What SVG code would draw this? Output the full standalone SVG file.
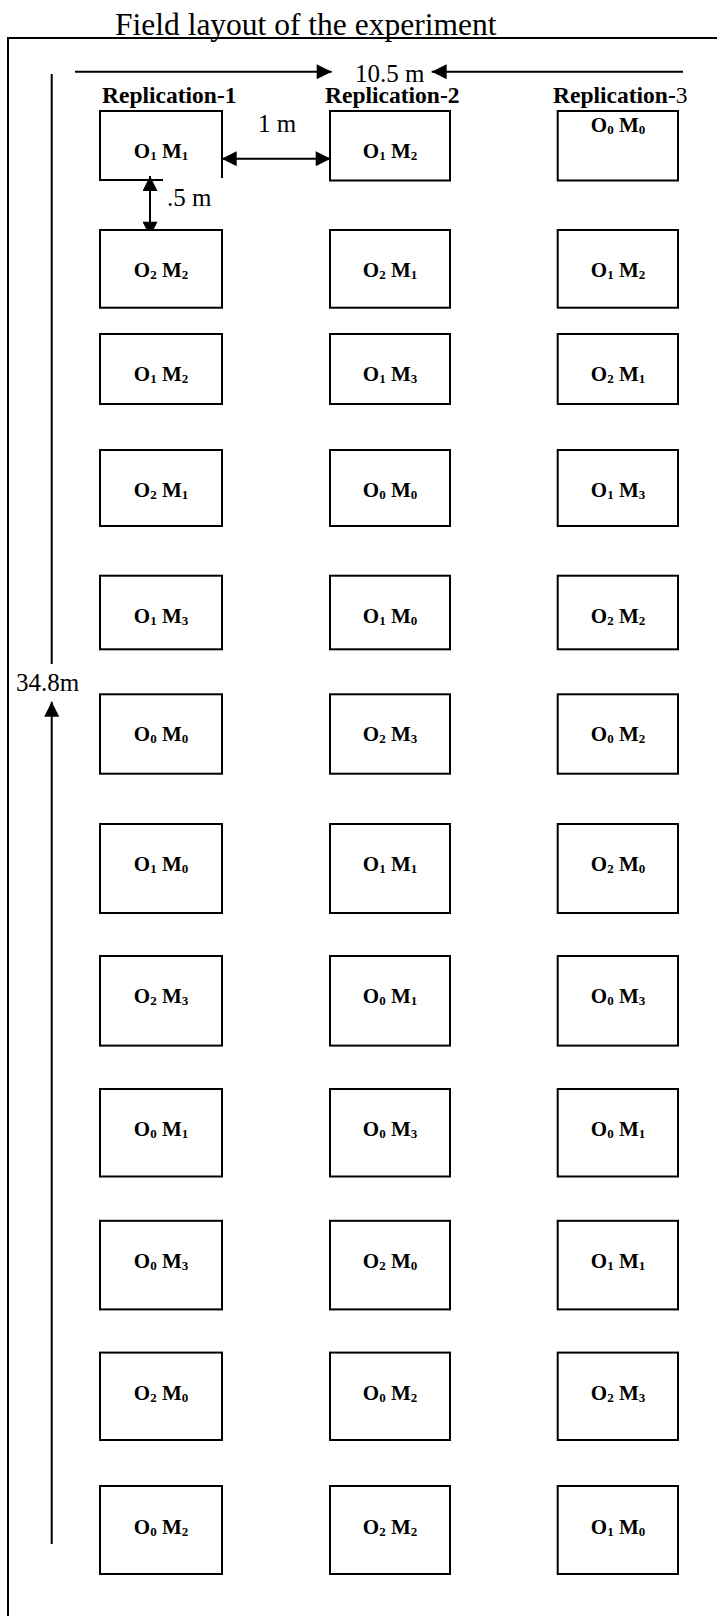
<svg xmlns="http://www.w3.org/2000/svg" width="717" height="1616" viewBox="0 0 717 1616">
<defs>
<style>
.plot{fill:#fff;stroke:#000;stroke-width:2}
.lbl{font-family:"Liberation Serif","Times New Roman",serif;font-weight:bold;font-size:21px;fill:#000;text-anchor:middle}
.sub{font-size:13px}
.dim{font-family:"Liberation Serif","Times New Roman",serif;font-size:25px;fill:#000}
.rep{font-family:"Liberation Serif","Times New Roman",serif;font-weight:bold;font-size:23.5px;fill:#000}
.ln{stroke:#000;stroke-width:2;fill:none}
</style>
<marker id="ah" viewBox="0 0 16 16" refX="16" refY="8" markerWidth="16" markerHeight="15" markerUnits="userSpaceOnUse" orient="auto-start-reverse">
<path d="M0,0 L16,8 L0,16 Z" fill="#000"/>
</marker>
</defs>
<rect width="717" height="1616" fill="#fff"/>
<g id="frame">
<text x="115" y="34.5" font-family="Liberation Serif, Times New Roman, serif" font-size="31.5" fill="#000">Field layout of the experiment</text>
<path class="ln" d="M717,38 H8 V1616"/>
</g>
<g id="headers">
<text class="rep" x="102" y="103">Replication-1</text>
<text class="rep" x="325" y="103">Replication-2</text>
<text class="rep" x="553" y="103">Replication-<tspan font-weight="normal">3</tspan></text>
</g>
<g id="connectors">
<line class="ln" x1="75" y1="71.7" x2="331.7" y2="71.7" marker-end="url(#ah)"/>
<line class="ln" x1="683" y1="71.7" x2="431.7" y2="71.7" marker-end="url(#ah)"/>
<line class="ln" x1="221.7" y1="158.7" x2="330.7" y2="158.7" marker-start="url(#ah)" marker-end="url(#ah)"/>
<line class="ln" x1="150" y1="176" x2="150" y2="236.7" marker-start="url(#ah)" marker-end="url(#ah)"/>
<line class="ln" x1="51.7" y1="74" x2="51.7" y2="664"/>
<line class="ln" x1="51.7" y1="1544" x2="51.7" y2="701.7" marker-end="url(#ah)"/>
<text class="dim" x="355" y="81.7">10.5 m</text>
<text class="dim" x="258" y="131.7">1 m</text>
<text class="dim" x="167" y="206">.5 m</text>
<text class="dim" x="16" y="691" font-size="26">34.8m</text>
</g>
<g id="r1c1"><path class="ln" d="M163,180 H100 V111 H222 V178"/><text class="lbl" x="161" y="158">O<tspan class="sub" dy="2">1</tspan><tspan dy="-2"> M</tspan><tspan class="sub" dy="2">1</tspan></text></g>
<g id="r1c2"><rect class="plot" x="330" y="111" width="120" height="69.5"/><text class="lbl" x="390" y="158">O<tspan class="sub" dy="2">1</tspan><tspan dy="-2"> M</tspan><tspan class="sub" dy="2">2</tspan></text></g>
<g id="r1c3"><rect class="plot" x="557.7" y="111" width="120.3" height="69.5"/><text class="lbl" x="618" y="131.7">O<tspan class="sub" dy="2">0</tspan><tspan dy="-2"> M</tspan><tspan class="sub" dy="2">0</tspan></text></g>
<g id="r2c1"><rect class="plot" x="100" y="230" width="122" height="77.7"/><text class="lbl" x="161" y="277">O<tspan class="sub" dy="2">2</tspan><tspan dy="-2"> M</tspan><tspan class="sub" dy="2">2</tspan></text></g>
<g id="r2c2"><rect class="plot" x="330" y="230" width="120" height="77.7"/><text class="lbl" x="390" y="277">O<tspan class="sub" dy="2">2</tspan><tspan dy="-2"> M</tspan><tspan class="sub" dy="2">1</tspan></text></g>
<g id="r2c3"><rect class="plot" x="557.7" y="230" width="120.3" height="77.7"/><text class="lbl" x="618" y="277">O<tspan class="sub" dy="2">1</tspan><tspan dy="-2"> M</tspan><tspan class="sub" dy="2">2</tspan></text></g>
<g id="r3c1"><rect class="plot" x="100" y="334" width="122" height="70"/><text class="lbl" x="161" y="381">O<tspan class="sub" dy="2">1</tspan><tspan dy="-2"> M</tspan><tspan class="sub" dy="2">2</tspan></text></g>
<g id="r3c2"><rect class="plot" x="330" y="334" width="120" height="70"/><text class="lbl" x="390" y="381">O<tspan class="sub" dy="2">1</tspan><tspan dy="-2"> M</tspan><tspan class="sub" dy="2">3</tspan></text></g>
<g id="r3c3"><rect class="plot" x="557.7" y="334" width="120.3" height="70"/><text class="lbl" x="618" y="381">O<tspan class="sub" dy="2">2</tspan><tspan dy="-2"> M</tspan><tspan class="sub" dy="2">1</tspan></text></g>
<g id="r4c1"><rect class="plot" x="100" y="450" width="122" height="76"/><text class="lbl" x="161" y="497">O<tspan class="sub" dy="2">2</tspan><tspan dy="-2"> M</tspan><tspan class="sub" dy="2">1</tspan></text></g>
<g id="r4c2"><rect class="plot" x="330" y="450" width="120" height="76"/><text class="lbl" x="390" y="497">O<tspan class="sub" dy="2">0</tspan><tspan dy="-2"> M</tspan><tspan class="sub" dy="2">0</tspan></text></g>
<g id="r4c3"><rect class="plot" x="557.7" y="450" width="120.3" height="76"/><text class="lbl" x="618" y="497">O<tspan class="sub" dy="2">1</tspan><tspan dy="-2"> M</tspan><tspan class="sub" dy="2">3</tspan></text></g>
<g id="r5c1"><rect class="plot" x="100" y="575.7" width="122" height="73.6"/><text class="lbl" x="161" y="622.7">O<tspan class="sub" dy="2">1</tspan><tspan dy="-2"> M</tspan><tspan class="sub" dy="2">3</tspan></text></g>
<g id="r5c2"><rect class="plot" x="330" y="575.7" width="120" height="73.6"/><text class="lbl" x="390" y="622.7">O<tspan class="sub" dy="2">1</tspan><tspan dy="-2"> M</tspan><tspan class="sub" dy="2">0</tspan></text></g>
<g id="r5c3"><rect class="plot" x="557.7" y="575.7" width="120.3" height="73.6"/><text class="lbl" x="618" y="622.7">O<tspan class="sub" dy="2">2</tspan><tspan dy="-2"> M</tspan><tspan class="sub" dy="2">2</tspan></text></g>
<g id="r6c1"><rect class="plot" x="100" y="694.3" width="122" height="79.4"/><text class="lbl" x="161" y="741.3">O<tspan class="sub" dy="2">0</tspan><tspan dy="-2"> M</tspan><tspan class="sub" dy="2">0</tspan></text></g>
<g id="r6c2"><rect class="plot" x="330" y="694.3" width="120" height="79.4"/><text class="lbl" x="390" y="741.3">O<tspan class="sub" dy="2">2</tspan><tspan dy="-2"> M</tspan><tspan class="sub" dy="2">3</tspan></text></g>
<g id="r6c3"><rect class="plot" x="557.7" y="694.3" width="120.3" height="79.4"/><text class="lbl" x="618" y="741.3">O<tspan class="sub" dy="2">0</tspan><tspan dy="-2"> M</tspan><tspan class="sub" dy="2">2</tspan></text></g>
<g id="r7c1"><rect class="plot" x="100" y="824" width="122" height="89"/><text class="lbl" x="161" y="871">O<tspan class="sub" dy="2">1</tspan><tspan dy="-2"> M</tspan><tspan class="sub" dy="2">0</tspan></text></g>
<g id="r7c2"><rect class="plot" x="330" y="824" width="120" height="89"/><text class="lbl" x="390" y="871">O<tspan class="sub" dy="2">1</tspan><tspan dy="-2"> M</tspan><tspan class="sub" dy="2">1</tspan></text></g>
<g id="r7c3"><rect class="plot" x="557.7" y="824" width="120.3" height="89"/><text class="lbl" x="618" y="871">O<tspan class="sub" dy="2">2</tspan><tspan dy="-2"> M</tspan><tspan class="sub" dy="2">0</tspan></text></g>
<g id="r8c1"><rect class="plot" x="100" y="956" width="122" height="89.6"/><text class="lbl" x="161" y="1003">O<tspan class="sub" dy="2">2</tspan><tspan dy="-2"> M</tspan><tspan class="sub" dy="2">3</tspan></text></g>
<g id="r8c2"><rect class="plot" x="330" y="956" width="120" height="89.6"/><text class="lbl" x="390" y="1003">O<tspan class="sub" dy="2">0</tspan><tspan dy="-2"> M</tspan><tspan class="sub" dy="2">1</tspan></text></g>
<g id="r8c3"><rect class="plot" x="557.7" y="956" width="120.3" height="89.6"/><text class="lbl" x="618" y="1003">O<tspan class="sub" dy="2">0</tspan><tspan dy="-2"> M</tspan><tspan class="sub" dy="2">3</tspan></text></g>
<g id="r9c1"><rect class="plot" x="100" y="1089" width="122" height="87.5"/><text class="lbl" x="161" y="1136">O<tspan class="sub" dy="2">0</tspan><tspan dy="-2"> M</tspan><tspan class="sub" dy="2">1</tspan></text></g>
<g id="r9c2"><rect class="plot" x="330" y="1089" width="120" height="87.5"/><text class="lbl" x="390" y="1136">O<tspan class="sub" dy="2">0</tspan><tspan dy="-2"> M</tspan><tspan class="sub" dy="2">3</tspan></text></g>
<g id="r9c3"><rect class="plot" x="557.7" y="1089" width="120.3" height="87.5"/><text class="lbl" x="618" y="1136">O<tspan class="sub" dy="2">0</tspan><tspan dy="-2"> M</tspan><tspan class="sub" dy="2">1</tspan></text></g>
<g id="r10c1"><rect class="plot" x="100" y="1220.8" width="122" height="88.6"/><text class="lbl" x="161" y="1267.8">O<tspan class="sub" dy="2">0</tspan><tspan dy="-2"> M</tspan><tspan class="sub" dy="2">3</tspan></text></g>
<g id="r10c2"><rect class="plot" x="330" y="1220.8" width="120" height="88.6"/><text class="lbl" x="390" y="1267.8">O<tspan class="sub" dy="2">2</tspan><tspan dy="-2"> M</tspan><tspan class="sub" dy="2">0</tspan></text></g>
<g id="r10c3"><rect class="plot" x="557.7" y="1220.8" width="120.3" height="88.6"/><text class="lbl" x="618" y="1267.8">O<tspan class="sub" dy="2">1</tspan><tspan dy="-2"> M</tspan><tspan class="sub" dy="2">1</tspan></text></g>
<g id="r11c1"><rect class="plot" x="100" y="1352.6" width="122" height="87.4"/><text class="lbl" x="161" y="1399.6">O<tspan class="sub" dy="2">2</tspan><tspan dy="-2"> M</tspan><tspan class="sub" dy="2">0</tspan></text></g>
<g id="r11c2"><rect class="plot" x="330" y="1352.6" width="120" height="87.4"/><text class="lbl" x="390" y="1399.6">O<tspan class="sub" dy="2">0</tspan><tspan dy="-2"> M</tspan><tspan class="sub" dy="2">2</tspan></text></g>
<g id="r11c3"><rect class="plot" x="557.7" y="1352.6" width="120.3" height="87.4"/><text class="lbl" x="618" y="1399.6">O<tspan class="sub" dy="2">2</tspan><tspan dy="-2"> M</tspan><tspan class="sub" dy="2">3</tspan></text></g>
<g id="r12c1"><rect class="plot" x="100" y="1486" width="122" height="88"/><text class="lbl" x="161" y="1534">O<tspan class="sub" dy="2">0</tspan><tspan dy="-2"> M</tspan><tspan class="sub" dy="2">2</tspan></text></g>
<g id="r12c2"><rect class="plot" x="330" y="1486" width="120" height="88"/><text class="lbl" x="390" y="1534">O<tspan class="sub" dy="2">2</tspan><tspan dy="-2"> M</tspan><tspan class="sub" dy="2">2</tspan></text></g>
<g id="r12c3"><rect class="plot" x="557.7" y="1486" width="120.3" height="88"/><text class="lbl" x="618" y="1534">O<tspan class="sub" dy="2">1</tspan><tspan dy="-2"> M</tspan><tspan class="sub" dy="2">0</tspan></text></g>
</svg>
